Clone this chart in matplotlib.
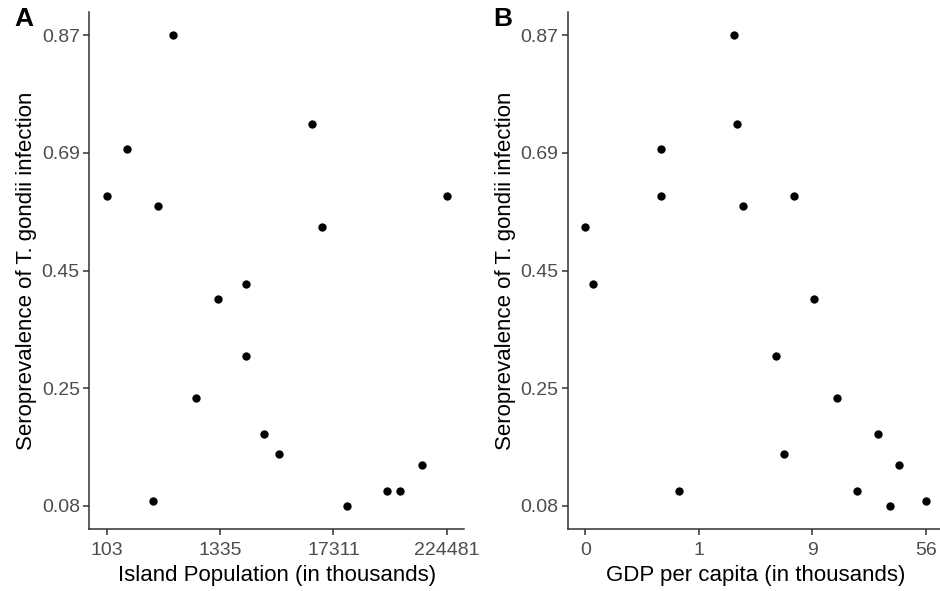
import numpy as np
import matplotlib
matplotlib.use("Agg")
import matplotlib.pyplot as plt

plt.rcParams['font.family'] = ['Liberation Sans', 'DejaVu Sans']

# Seroprevalence of T. gondii infection (shared by both panels)
prev_a = [0.87, 0.735, 0.696, 0.603, 0.603, 0.581, 0.539, 0.427, 0.401,
          0.304, 0.236, 0.184, 0.154, 0.139, 0.101, 0.101, 0.087, 0.08]
# Island population (in thousands), same order as prev_a
population = [462, 10610, 162, 103, 224481, 333, 13420, 2381, 1275,
              2420, 776, 3572, 5090, 126800, 57560, 78340, 297, 23350]

prev_b = [0.87, 0.735, 0.696, 0.603, 0.603, 0.581, 0.539, 0.427, 0.401,
          0.304, 0.236, 0.184, 0.154, 0.139, 0.101, 0.101, 0.087, 0.08]
# GDP per capita (in thousands), same order as prev_b
gdp = [2.61, 2.73, 0.811, 0.811, 6.83, 2.98, 0.24, 0.273, 9.40,
       5.05, 13.5, 26.1, 5.80, 36.3, 1.07, 18.6, 56.0, 31.4]

prev_ticks = [0.08, 0.25, 0.45, 0.69, 0.87]
pop_ticks = [103, 1335, 17311, 224481]
gdp_tick_vals = [0.24, 1.477, 9.09, 56.0]
gdp_tick_labels = ["0", "1", "9", "56"]

# y axis: tick values are evenly spaced on the plot
idx = np.arange(len(prev_ticks), dtype=float)
tv = np.array(prev_ticks)


def fwd(v):
    v = np.array(v, dtype=float)
    shp = v.shape
    v = v.ravel()
    u = np.interp(v, tv, idx)
    lo = v < tv[0]
    hi = v > tv[-1]
    u[lo] = (v[lo] - tv[0]) / (tv[1] - tv[0])
    u[hi] = idx[-1] + (v[hi] - tv[-1]) / (tv[-1] - tv[-2])
    return u.reshape(shp)


def inv(u):
    u = np.array(u, dtype=float)
    shp = u.shape
    u = u.ravel()
    v = np.interp(u, idx, tv)
    lo = u < 0
    hi = u > idx[-1]
    v[lo] = tv[0] + u[lo] * (tv[1] - tv[0])
    v[hi] = tv[-1] + (u[hi] - idx[-1]) * (tv[-1] - tv[-2])
    return v.reshape(shp)


def log_lims(a, b):
    la, lb = np.log10(a), np.log10(b)
    pad = 0.05 * (lb - la)
    return 10 ** (la - pad), 10 ** (lb + pad)


fig = plt.figure(figsize=(9.4, 5.91), dpi=100)
ax1 = fig.add_axes([0.0952, 0.1049, 0.3984, 0.8748])
# right panel runs slightly past the right edge (cropped, as in the source)
ax2 = fig.add_axes([0.6046, 0.1049, 0.3984, 0.8748])

tick_col = "#4D4D4D"
panels = [
    (ax1, population, prev_a, pop_ticks, [str(t) for t in pop_ticks],
     "Island Population (in thousands)", "A"),
    (ax2, gdp, prev_b, gdp_tick_vals, gdp_tick_labels,
     "GDP per capita (in thousands)", "B"),
]

for ax, x, y, xt, xl, xlabel, letter in panels:
    ax.set_xscale("log")
    ax.set_yscale("function", functions=(fwd, inv))
    ax.scatter(x, y, s=36, color="black", linewidths=0, zorder=3)
    ax.set_xlim(*log_lims(xt[0], xt[-1]))
    ax.set_ylim(inv(-0.2), inv(len(prev_ticks) - 1 + 0.2))
    ax.set_xticks(xt)
    ax.set_xticklabels(xl)
    ax.xaxis.set_minor_locator(matplotlib.ticker.NullLocator())
    ax.set_yticks(prev_ticks)
    ax.set_yticklabels([f"{t:.2f}" for t in prev_ticks])
    ax.yaxis.set_minor_locator(matplotlib.ticker.NullLocator())
    ax.spines["top"].set_visible(False)
    ax.spines["right"].set_visible(False)
    for s in ("left", "bottom"):
        ax.spines[s].set_color("#333333")
        ax.spines[s].set_linewidth(1.1)
    ax.tick_params(colors="#333333", length=4, width=1.1, labelsize=14,
                   labelcolor=tick_col, pad=3)
    ax.tick_params(axis="x", pad=5)
    ax.set_xlabel(xlabel, fontsize=16, labelpad=5)
    ax.set_ylabel("Seroprevalence of T. gondii infection", fontsize=16, labelpad=3)
    pos = ax.get_position()
    fig.text(pos.x0 - 0.08, 0.988, letter, fontsize=19, fontweight="bold",
             va="top", ha="left")

fig.savefig("out.png", dpi=100)
plt.close(fig)
